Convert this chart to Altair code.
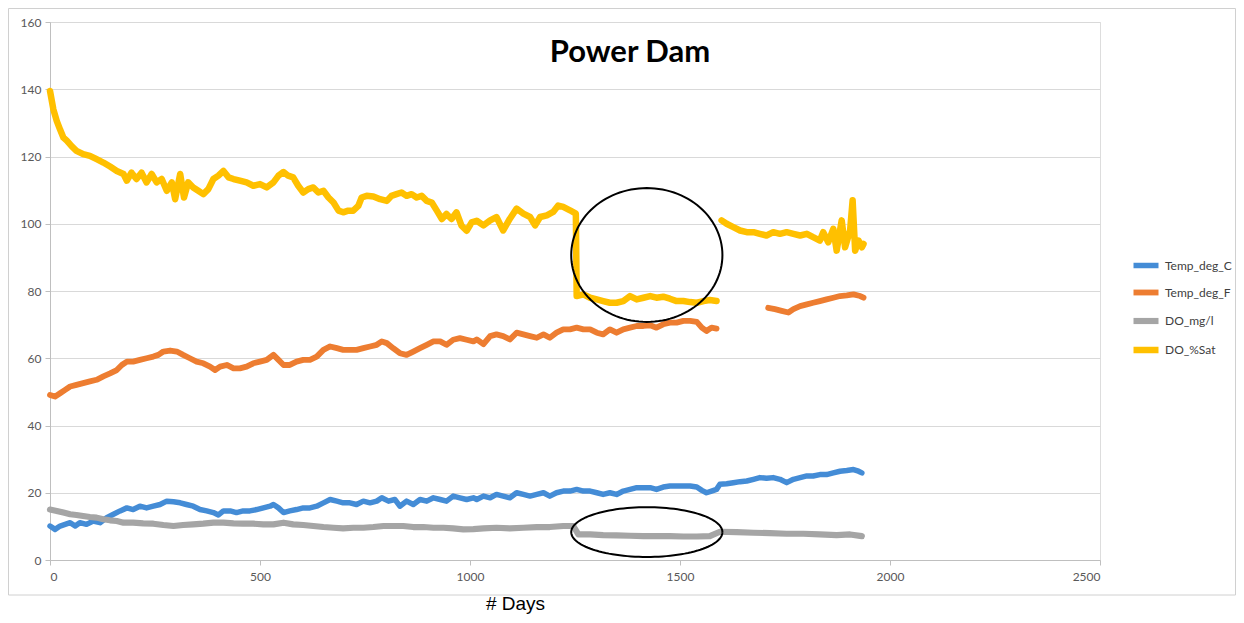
import altair as alt
import pandas as pd

TITLE = "Power Dam"
X_TITLE = "# Days"
SERIES = ["Temp_deg_C", "Temp_deg_F", "DO_mg/l", "DO_%Sat"]
COLORS = ["#448CD6", "#ED7D31", "#A5A5A5", "#FFC000"]
WIDTHS = [5.5, 6.5, 5.5, 4.5]
X_TICKS = [0, 500, 1000, 1500, 2000, 2500]
Y_TICKS = [0, 20, 40, 60, 80, 100, 120, 140, 160]

# None marks a break in the line
c_days = [0, 12, 24, 36, 48, 60, 71, 87, 103, 119, 135, 151, 167, 183, 198, 214, 230, 246, 262, 278,
          294, 310, 325, 341, 357, 373, 389, 401, 413, 429, 444, 460, 476, 492, 508, 524, 532, 544, 556,
          571, 587, 603, 619, 635, 651, 667, 683, 698, 714, 730, 746, 762, 778, 790, 806, 821, 833, 849,
          865, 881, 897, 913, 929, 944, 960, 976, 992, 1008, 1016, 1032, 1048, 1063, 1079, 1095, 1111,
          1127, 1143, 1159, 1175, 1190, 1206, 1222, 1238, 1254, 1270, 1286, 1302, 1317, 1333, 1349, 1365,
          1381, 1397, 1413, 1429, 1444, 1460, 1476, 1492, 1508, 1524, 1540, 1552, 1563, 1575, 1587, 1595,
          1611, 1627, 1643, 1659, 1675, 1690, 1706, 1722, 1738, 1754, 1770, 1786, 1802, 1817, 1833, 1849,
          1865, 1881, 1897, 1913, 1925, 1933]
c_vals = [10.1, 9.1, 10.1, 10.6, 11.1, 10.1, 11.1, 10.6, 11.6, 11.1, 12.6, 13.6, 14.6, 15.5, 15.0, 16.0,
          15.5, 16.0, 16.5, 17.5, 17.3, 17.0, 16.5, 16.0, 15.0, 14.6, 14.1, 13.4, 14.6, 14.6, 14.1, 14.6,
          14.6, 15.0, 15.5, 16.0, 16.5, 15.5, 14.1, 14.6, 15.0, 15.5, 15.5, 16.0, 17.0, 18.0, 17.5, 17.0,
          17.0, 16.5, 17.5, 17.0, 17.5, 18.5, 17.5, 18.0, 16.0, 17.5, 16.5, 18.0, 17.5, 18.5, 18.0, 17.5,
          19.0, 18.5, 18.0, 18.5, 18.0, 19.0, 18.5, 19.5, 19.0, 18.5, 20.0, 19.5, 19.0, 19.5, 20.0, 19.0,
          20.0, 20.5, 20.5, 21.0, 20.5, 20.5, 20.0, 19.5, 20.0, 19.5, 20.5, 21.0, 21.5, 21.5, 21.5, 21.0,
          21.7, 22.0, 22.0, 22.0, 22.0, 21.7, 20.7, 20.0, 20.5, 21.0, 22.5, 22.7, 23.0, 23.3, 23.5, 24.0,
          24.5, 24.3, 24.5, 24.0, 23.0, 24.0, 24.5, 25.0, 25.0, 25.4, 25.4, 25.9, 26.4, 26.6, 26.9, 26.4,
          25.9]

f_days = [0, 12, 24, 36, 48, 63, 79, 95, 111, 127, 143, 159, 171, 183, 198, 214, 230, 246, 258, 270, 286,
          302, 317, 333, 349, 365, 381, 393, 405, 421, 437, 452, 468, 484, 500, 516, 532, 544, 556, 571,
          587, 603, 619, 635, 651, 667, 683, 698, 714, 730, 746, 762, 778, 790, 802, 817, 833, 849, 865,
          881, 897, 913, 929, 944, 960, 976, 992, 1008, 1016, 1032, 1048, 1063, 1079, 1095, 1111, 1127,
          1143, 1159, 1175, 1190, 1206, 1222, 1238, 1254, 1270, 1286, 1302, 1317, 1333, 1349, 1365, 1381,
          1397, 1413, 1429, 1444, 1460, 1476, 1492, 1508, 1524, 1540, 1552, 1563, 1575, 1587, None, 1710,
          1726, 1742, 1758, 1770, 1786, 1802, 1817, 1833, 1849, 1865, 1881, 1897, 1913, 1929, 1937]
f_vals = [49.1, 48.6, 49.6, 50.6, 51.6, 52.1, 52.6, 53.1, 53.6, 54.6, 55.5, 56.5, 58.0, 59.0, 59.0, 59.5,
          60.0, 60.5, 61.0, 62.0, 62.3, 62.0, 61.0, 60.0, 59.0, 58.5, 57.5, 56.5, 57.5, 58.0, 57.0, 57.0,
          57.5, 58.5, 59.0, 59.5, 61.0, 59.5, 58.0, 58.0, 59.0, 59.5, 59.5, 60.5, 62.5, 63.5, 63.0, 62.5,
          62.5, 62.5, 63.0, 63.5, 64.0, 65.0, 64.5, 63.0, 61.5, 61.0, 62.0, 63.0, 64.0, 65.0, 65.0, 64.0,
          65.5, 66.0, 65.5, 65.0, 65.6, 64.2, 66.6, 67.1, 66.6, 65.6, 67.6, 67.1, 66.6, 66.1, 67.1, 66.1,
          67.6, 68.6, 68.6, 69.1, 68.6, 68.6, 67.6, 67.1, 68.6, 67.6, 68.6, 69.1, 69.6, 69.6, 69.8, 69.1,
          70.1, 70.6, 70.6, 71.1, 71.1, 70.8, 69.1, 68.1, 69.1, 68.8, None, 75.0, 74.6, 74.1, 73.6, 74.6,
          75.5, 76.0, 76.5, 77.0, 77.5, 78.0, 78.5, 78.7, 79.0, 78.5, 78.0]

mg_days = [0, 16, 32, 48, 63, 79, 95, 111, 127, 143, 159, 175, 198, 222, 246, 270, 294, 317, 341, 365,
           389, 413, 437, 460, 484, 508, 532, 556, 579, 603, 627, 651, 675, 698, 722, 746, 770, 794, 817,
           841, 865, 889, 913, 937, 960, 984, 1008, 1032, 1063, 1095, 1127, 1159, 1190, 1222, 1246, 1258,
           1286, 1317, 1349, 1381, 1413, 1444, 1476, 1508, 1540, 1571, 1595, 1635, 1675, 1714, 1754, 1794,
           1833, 1873, 1905, 1933]
mg_vals = [15.0, 14.6, 14.1, 13.6, 13.4, 13.1, 12.8, 12.6, 12.1, 11.8, 11.6, 11.1, 11.1, 10.9, 10.8, 10.4,
           10.1, 10.4, 10.6, 10.8, 11.1, 11.1, 10.9, 10.8, 10.8, 10.6, 10.6, 11.1, 10.6, 10.4, 10.1, 9.8,
           9.6, 9.4, 9.6, 9.6, 9.8, 10.1, 10.1, 10.1, 9.8, 9.8, 9.6, 9.6, 9.4, 9.1, 9.2, 9.4, 9.6, 9.4, 9.6,
           9.8, 9.8, 10.1, 10.1, 7.6, 7.6, 7.4, 7.3, 7.2, 7.1, 7.1, 7.1, 7.0, 7.0, 7.1, 8.4, 8.3, 8.1, 8.0,
           7.8, 7.8, 7.6, 7.4, 7.6, 7.1]

sat_days = [0, 8, 16, 24, 32, 40, 52, 63, 79, 95, 111, 127, 143, 159, 175, 183, 194, 206, 218, 230, 242,
            254, 266, 278, 290, 298, 310, 319, 329, 341, 353, 365, 377, 389, 401, 413, 425, 437, 452, 468,
            484, 500, 516, 532, 544, 556, 567, 579, 591, 603, 615, 627, 639, 651, 663, 675, 687, 698, 710,
            722, 734, 742, 754, 770, 786, 802, 813, 825, 837, 849, 861, 873, 885, 897, 909, 921, 933, 944,
            956, 968, 980, 992, 1004, 1016, 1032, 1048, 1063, 1079, 1095, 1111, 1127, 1143, 1155, 1167,
            1183, 1198, 1210, 1222, 1238, 1252, 1254, 1270, 1286, 1302, 1317, 1333, 1349, 1365, 1381, 1397,
            1413, 1429, 1444, 1460, 1476, 1492, 1508, 1524, 1540, 1556, 1571, 1587, None, 1599, 1611, 1627,
            1643, 1659, 1675, 1690, 1706, 1722, 1738, 1754, 1770, 1786, 1802, 1817, 1833, 1841, 1853, 1865,
            1873, 1885, 1893, 1905, 1911, 1917, 1925, 1933, 1937]
sat_vals = [139.5, 134.0, 130.6, 128.0, 125.6, 124.7, 123.0, 121.7, 120.7, 120.2, 119.2, 118.2, 117.0,
            115.7, 114.8, 112.8, 115.2, 113.3, 115.2, 112.3, 114.8, 112.3, 113.3, 109.8, 112.3, 107.3,
            114.8, 107.8, 112.3, 110.8, 109.8, 108.8, 110.3, 113.3, 114.3, 115.7, 113.8, 113.3, 112.8,
            112.3, 111.3, 111.8, 110.8, 112.3, 114.3, 115.4, 114.3, 113.8, 111.3, 109.3, 110.3, 110.8,
            109.3, 109.8, 107.8, 106.3, 103.9, 103.4, 103.9, 103.9, 105.3, 107.8, 108.3, 108.1, 107.3,
            106.8, 108.3, 108.8, 109.3, 108.3, 108.8, 107.8, 108.3, 106.8, 106.3, 103.9, 101.4, 102.9,
            101.4, 103.4, 99.4, 97.9, 100.4, 100.9, 99.5, 101.0, 102.0, 98.0, 101.5, 104.5, 103.0, 102.0,
            99.5, 102.0, 102.5, 103.5, 105.4, 105.0, 104.0, 103.0, 78.5, 79.0, 78.0, 77.5, 77.0, 76.5, 76.5,
            77.0, 78.5, 77.5, 78.0, 78.5, 78.0, 78.3, 77.7, 77.0, 77.0, 76.7, 76.5, 77.0, 77.3, 77.0, None,
            101.0, 100.0, 99.0, 98.0, 97.5, 97.5, 97.0, 96.5, 97.5, 97.0, 97.5, 97.0, 96.5, 97.0, 96.0,
            95.0, 97.5, 94.5, 98.5, 92.0, 101.0, 93.0, 98.0, 107.0, 92.0, 95.0, 93.0, 94.0]

# Annotation ellipses (centre and radii in data units)
ELL1 = (1421, 90.7, 180, 19.9)
ELL2 = (1421, 8.3, 180, 7.4)

rows = []
for name, days, vals in zip(SERIES, [c_days, f_days, mg_days, sat_days], [c_vals, f_vals, mg_vals, sat_vals]):
    seg = 0
    for i, (d, v) in enumerate(zip(days, vals)):
        if d is None or v is None:
            seg += 1
            continue
        rows.append({"day": d, "value": v, "series": name, "seg": f"{name}-{seg}", "i": i})
df = pd.DataFrame(rows)

FONT = "Lato"
GRID = "#d9d9d9"

x_scale = alt.Scale(domain=[0, 2500], nice=False, zero=False)
y_scale = alt.Scale(domain=[0, 160], nice=False)

lines = alt.Chart(df).mark_line(strokeJoin="round", strokeCap="round").encode(
    x=alt.X("day:Q", scale=x_scale,
            axis=alt.Axis(values=X_TICKS, format="d", grid=False, title=X_TITLE, titleFont="Liberation Sans",
                          titleFontSize=19, titleFontWeight="normal", titleColor="#000000",
                          titleX=465, titleY=43, titleBaseline="middle", titleAlign="center",
                          labelFont=FONT, labelFontSize=12, labelColor="#595959", labelPadding=6,
                          tickSize=5, tickColor="#bfbfbf", domainColor="#bfbfbf")),
    y=alt.Y("value:Q", scale=y_scale,
            axis=alt.Axis(values=Y_TICKS, format="d", grid=True, gridColor=GRID, title=None,
                          labelFont=FONT, labelFontSize=12, labelColor="#595959", labelPadding=4,
                          tickSize=5, tickColor="#bfbfbf", domainColor="#bfbfbf")),
    color=alt.Color("series:N", scale=alt.Scale(domain=SERIES, range=COLORS),
                    legend=alt.Legend(title=None, orient="none", legendX=1080, legendY=228,
                                      symbolType="stroke", symbolSize=625, symbolStrokeWidth=2.5,
                                      labelFont=FONT, labelFontSize=12, labelColor="#404040",
                                      labelOffset=3, rowPadding=0, labelLimit=200)),
    strokeWidth=alt.StrokeWidth("series:N", scale=alt.Scale(domain=SERIES, range=WIDTHS), legend=None),
    detail="seg:N",
    order="i:Q",
)


def ellipse(e):
    cx, cy, rx, ry = e
    return alt.Chart(alt.sequence(0, 363, 3, as_="t")).transform_calculate(
        ex=f"{cx} + {rx}*cos(datum.t*PI/180)",
        ey=f"{cy} + {ry}*sin(datum.t*PI/180)",
    ).mark_line(color="black", strokeWidth=2).encode(
        x=alt.X("ex:Q", scale=x_scale),
        y=alt.Y("ey:Q", scale=y_scale),
        order="t:Q",
    )


title = alt.Chart(pd.DataFrame({"t": [TITLE]})).mark_text(
    font=FONT, fontSize=31, fontWeight="bold", color="#000000", align="center", baseline="middle"
).encode(x=alt.value(580), y=alt.value(31), text="t:N")

frame = alt.Chart(pd.DataFrame({"a": [0]})).mark_rect(
    fillOpacity=0, stroke="#d0d0d0", strokeWidth=1
).encode(x=alt.value(-41.5), x2=alt.value(1185.5), y=alt.value(-13.5), y2=alt.value(573))

chart = alt.layer(frame, lines, ellipse(ELL1), ellipse(ELL2), title).properties(
    width=1050, height=538,
    padding={"left": 42, "top": 14, "right": 136, "bottom": 55},
    autosize=alt.AutoSizeParams(type="none"),
).configure_view(stroke=None).configure(background="white")

chart.save("out.html", embed_options={"renderer": "svg", "actions": False})
